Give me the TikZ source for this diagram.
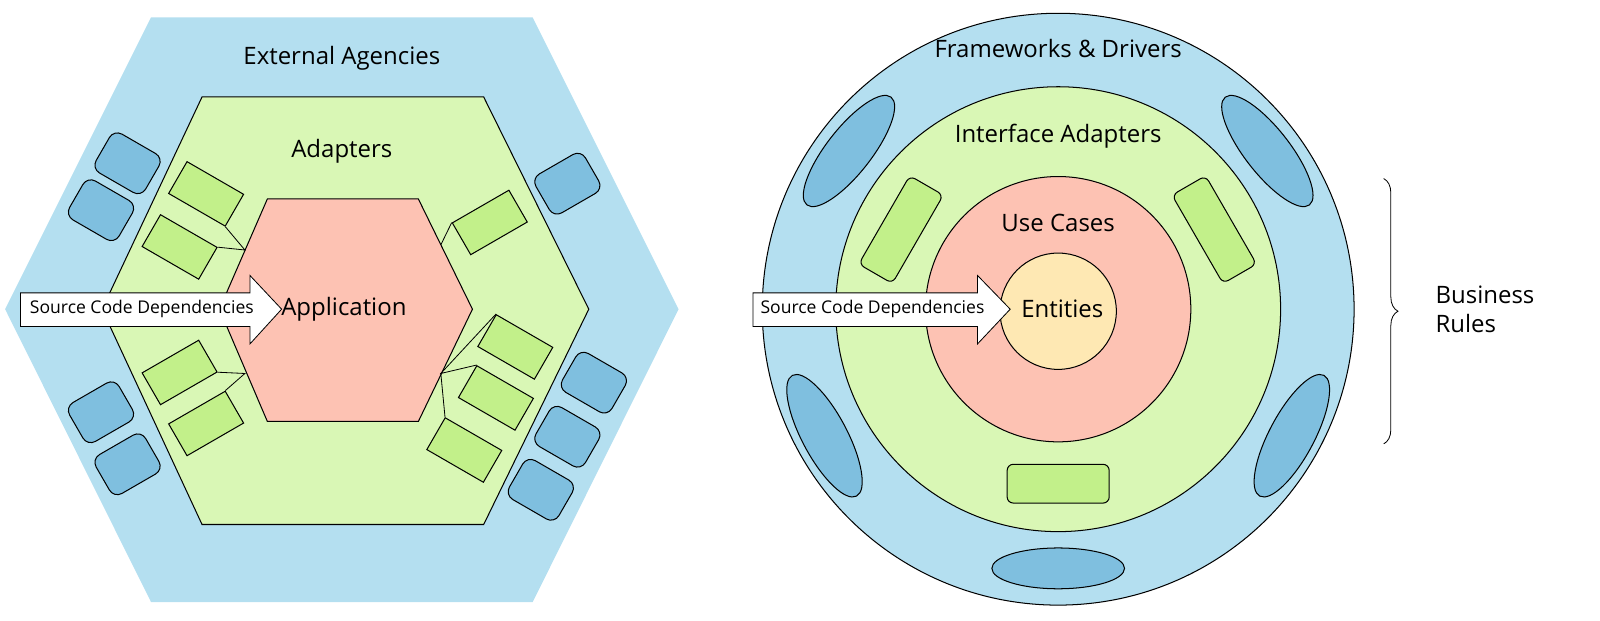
\documentclass[tikz,border=0pt]{standalone}
\usepackage{fontspec}
\setmainfont{Open Sans}
\usetikzlibrary{decorations.pathreplacing,shapes.geometric}
\definecolor{lb}{HTML}{B4DFF0}
\definecolor{db}{HTML}{7FBFDF}
\definecolor{lg}{HTML}{D9F7B5}
\definecolor{gr}{HTML}{C2F08A}
\definecolor{pk}{HTML}{FDC2B3}
\definecolor{yl}{HTML}{FEE8B3}
\begin{document}
\begin{tikzpicture}[x=1pt,y=-1pt,line width=1pt,
  lbl/.style={font=\fontsize{23.5}{29}\selectfont},
  arrtxt/.style={font=\fontsize{17.2}{21}\selectfont},
  grect/.style={draw,fill=gr,minimum width=64pt,minimum height=36pt,inner sep=0pt},
  brect/.style={draw,fill=db,rounded corners=9pt,minimum width=56pt,minimum height=44pt,inner sep=0pt},
  rgrect/.style={draw,fill=gr,rounded corners=6pt,minimum width=100pt,minimum height=38pt,inner sep=0pt},
  bell/.style={draw,fill=db,ellipse,minimum width=134pt,minimum height=44pt,inner sep=0pt},
  conn/.style={line width=0.8pt}]
\useasboundingbox (0,0) rectangle (1568,608);
% ===== left: hexagonal =====
\fill[lb] (148,17) -- (522,17) -- (665,303) -- (522,590) -- (148,590) -- (5,303) -- cycle;
\draw[fill=lg] (198,95) -- (474,95) -- (577,303) -- (474,514) -- (198,514) -- (100,303) -- cycle;
\draw[fill=pk] (262,195) -- (410,195) -- (463,303) -- (410,413) -- (262,413) -- (215,303) -- cycle;
\node[lbl] (ext) at (335,57) {External Agencies};
\node[lbl] (adp) at (335,148) {Adapters};
\node[lbl] (app) at (337,303) {Application};
% blue
\node[brect,rotate=-30] (b1) at (125,160) {};
\node[brect,rotate=-30] (b2) at (99,206) {};
\node[brect,rotate=30] (b3) at (99,404) {};
\node[brect,rotate=30] (b4) at (125,455) {};
\node[brect,rotate=30] (b5) at (556,180) {};
\node[brect,rotate=-30] (b6) at (582,375) {};
\node[brect,rotate=-30] (b7) at (556,428) {};
\node[brect,rotate=-30] (b8) at (530,480) {};
% green
\coordinate (pl1) at (240,245);
\coordinate (pl2) at (240,366);
\coordinate (pr1) at (432,240);
\coordinate (pr2) at (432,366);
\node[grect,rotate=-30] (g1) at (202,190) {};
\node[grect,rotate=-30] (g2) at (176,242) {};
\node[grect,rotate=30] (g3) at (176,365) {};
\node[grect,rotate=30] (g4) at (202,415) {};
\node[grect,rotate=30] (g5) at (480,218) {};
\node[grect,rotate=-30] (g6) at (505,340) {};
\node[grect,rotate=-30] (g7) at (486,390) {};
\node[grect,rotate=-30] (g8) at (455,441) {};
\draw[conn] (g1.south east) -- (pl1) -- (g2.north east);
\draw[conn] (g3.south east) -- (pl2) -- (g4.north east);
\draw[conn] (pr1) -- (g5.north west);
\draw[conn] (g6.north west) -- (pr2) -- (g7.north west);
\draw[conn] (pr2) -- (g8.north west);
% arrow
\draw[fill=white,line width=0.8pt] (20,287) -- (245,287) -- (245,270) -- (276,303) -- (245,337) -- (245,320) -- (20,320) -- cycle;
\node[arrtxt] (scd1) at (139,303) {Source Code Dependencies};
% ===== right: onion =====
\draw[fill=lb] (1037,303) circle (290);
\draw[fill=lg] (1037,303) circle (218);
\draw[fill=pk] (1037,303) circle (130);
\draw[fill=yl] (1037,305) circle (57);
\node[lbl] (fd) at (1037,48) {Frameworks \& Drivers};
\node[lbl] (ia) at (1037,133) {Interface Adapters};
\node[lbl] (uc) at (1037,218) {Use Cases};
\node[lbl] (en) at (1041,303) {Entities};
\node[bell,rotate=52] (e1) at (832,148) {};
\node[bell,rotate=-52] (e2) at (1242,148) {};
\node[bell,rotate=-62] (e3) at (808,427) {};
\node[bell,rotate=62] (e4) at (1266,427) {};
\node[bell,minimum width=130pt,minimum height=40pt] (e5) at (1037,557) {};
\node[rgrect,rotate=60] (r1) at (883,225) {};
\node[rgrect,rotate=-60] (r2) at (1190,225) {};
\node[rgrect] (r3) at (1037,474) {};
\draw[fill=white,line width=0.8pt] (738,287) -- (958,287) -- (958,270) -- (990,303) -- (958,337) -- (958,320) -- (738,320) -- cycle;
\node[arrtxt] (scd2) at (855,303) {Source Code Dependencies};
% brace
\draw[line width=0.8pt,decorate,decoration={brace,amplitude=14pt}] (1356,175) -- (1356,435);
\node[lbl,align=left,anchor=west] (br) at (1403,303) {Business\\Rules};
\end{tikzpicture}
\end{document}
